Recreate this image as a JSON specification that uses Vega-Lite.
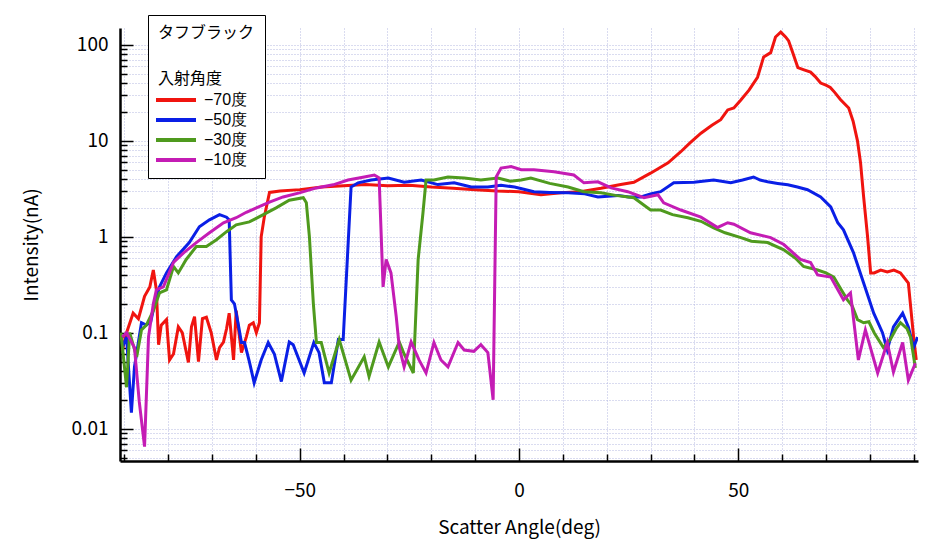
{
  "$schema": "https://vega.github.io/schema/vega-lite/v6.json",
  "width": 798,
  "height": 433,
  "autosize": {"type": "none"},
  "padding": {"left": 120, "top": 28, "right": 9, "bottom": 81},
  "background": "white",
  "config": {
    "font": "Noto Sans CJK JP",
    "view": {"stroke": null},
    "axis": {"domainColor": "black", "domainWidth": 2.5, "tickColor": "black", "tickWidth": 1.5, "labelColor": "black", "titleColor": "black", "labelFontSize": 19, "titleFontSize": 19, "titleFontWeight": "normal", "gridColor": "#b4b8e0", "gridDash": [1, 2], "gridWidth": 1}
  },
  "data": {"values": [
    {"s":"−70度","x":-90.5,"y":0.065},{"s":"−70度","x":-89.5,"y":0.1},{"s":"−70度","x":-88,"y":0.16},{"s":"−70度","x":-86.8,"y":0.14},{"s":"−70度","x":-85.4,"y":0.24},{"s":"−70度","x":-84.2,"y":0.3},{"s":"−70度","x":-83.4,"y":0.45},{"s":"−70度","x":-82.7,"y":0.28},{"s":"−70度","x":-82.2,"y":0.075},{"s":"−70度","x":-81.6,"y":0.12},{"s":"−70度","x":-80.4,"y":0.137},{"s":"−70度","x":-79.7,"y":0.052},{"s":"−70度","x":-78.8,"y":0.06},{"s":"−70度","x":-77.7,"y":0.115},{"s":"−70度","x":-76.8,"y":0.1},{"s":"−70度","x":-75.4,"y":0.049},{"s":"−70度","x":-74.7,"y":0.115},{"s":"−70度","x":-74.0,"y":0.147},{"s":"−70度","x":-73.1,"y":0.05},{"s":"−70度","x":-72.2,"y":0.14},{"s":"−70度","x":-71.3,"y":0.145},{"s":"−70度","x":-70.2,"y":0.1},{"s":"−70度","x":-69.0,"y":0.052},{"s":"−70度","x":-68.3,"y":0.07},{"s":"−70度","x":-67.4,"y":0.08},{"s":"−70度","x":-66.7,"y":0.11},{"s":"−70度","x":-66.1,"y":0.16},{"s":"−70度","x":-65.1,"y":0.052},{"s":"−70度","x":-64.5,"y":0.17},{"s":"−70度","x":-63.3,"y":0.062},{"s":"−70度","x":-62.2,"y":0.09},{"s":"−70度","x":-61.5,"y":0.12},{"s":"−70度","x":-60.6,"y":0.127},{"s":"−70度","x":-59.9,"y":0.1},{"s":"−70度","x":-59.2,"y":0.127},{"s":"−70度","x":-58.8,"y":1.0},{"s":"−70度","x":-58.1,"y":1.6},{"s":"−70度","x":-56.9,"y":2.9},{"s":"−70度","x":-54.5,"y":3.0},{"s":"−70度","x":-50,"y":3.1},{"s":"−70度","x":-45,"y":3.3},{"s":"−70度","x":-40,"y":3.4},{"s":"−70度","x":-35,"y":3.5},{"s":"−70度","x":-30,"y":3.4},{"s":"−70度","x":-25,"y":3.45},{"s":"−70度","x":-20,"y":3.3},{"s":"−70度","x":-15,"y":3.2},{"s":"−70度","x":-10,"y":3.1},{"s":"−70度","x":-5,"y":3.0},{"s":"−70度","x":0,"y":2.95},{"s":"−70度","x":5,"y":2.75},{"s":"−70度","x":9.6,"y":2.87},{"s":"−70度","x":14,"y":2.95},{"s":"−70度","x":18.7,"y":3.2},{"s":"−70度","x":23.2,"y":3.5},{"s":"−70度","x":26.2,"y":3.7},{"s":"−70度","x":30,"y":4.6},{"s":"−70度","x":34,"y":5.9},{"s":"−70度","x":36.9,"y":7.7},{"s":"−70度","x":39,"y":9.5},{"s":"−70度","x":41.5,"y":12},{"s":"−70度","x":44,"y":14.5},{"s":"−70度","x":46,"y":16.6},{"s":"−70度","x":47.6,"y":21},{"s":"−70度","x":49,"y":22},{"s":"−70度","x":50.6,"y":26.7},{"s":"−70度","x":52.5,"y":34},{"s":"−70度","x":54.4,"y":46},{"s":"−70度","x":55.8,"y":75},{"s":"−70度","x":57.4,"y":83},{"s":"−70度","x":58.5,"y":121},{"s":"−70度","x":59.7,"y":136},{"s":"−70度","x":60.8,"y":121},{"s":"−70度","x":61.5,"y":110},{"s":"−70度","x":62.4,"y":84},{"s":"−70度","x":63.6,"y":58},{"s":"−70度","x":65,"y":55},{"s":"−70度","x":66.5,"y":52},{"s":"−70度","x":67.5,"y":47},{"s":"−70度","x":68.8,"y":40},{"s":"−70度","x":70,"y":38},{"s":"−70度","x":71,"y":36},{"s":"−70度","x":72,"y":32},{"s":"−70度","x":73.3,"y":27},{"s":"−70度","x":75.2,"y":22},{"s":"−70度","x":76.2,"y":16},{"s":"−70度","x":77.2,"y":10},{"s":"−70度","x":77.9,"y":5.9},{"s":"−70度","x":78.6,"y":2.6},{"s":"−70度","x":79.5,"y":1.0},{"s":"−70度","x":80.2,"y":0.42},{"s":"−70度","x":81,"y":0.42},{"s":"−70度","x":82.5,"y":0.45},{"s":"−70度","x":84,"y":0.43},{"s":"−70度","x":85.5,"y":0.45},{"s":"−70度","x":87,"y":0.42},{"s":"−70度","x":88.8,"y":0.33},{"s":"−70度","x":90,"y":0.09},{"s":"−70度","x":90.6,"y":0.052},

    {"s":"−50度","x":-90.5,"y":0.07},{"s":"−50度","x":-89.5,"y":0.09},{"s":"−50度","x":-88.4,"y":0.0147},{"s":"−50度","x":-87.7,"y":0.044},{"s":"−50度","x":-86.1,"y":0.127},{"s":"−50度","x":-85,"y":0.12},{"s":"−50度","x":-84,"y":0.13},{"s":"−50度","x":-83.1,"y":0.2},{"s":"−50度","x":-82,"y":0.3},{"s":"−50度","x":-80.4,"y":0.42},{"s":"−50度","x":-78.1,"y":0.62},{"s":"−50度","x":-75.2,"y":0.87},{"s":"−50度","x":-72.9,"y":1.27},{"s":"−50度","x":-70.6,"y":1.5},{"s":"−50度","x":-68.3,"y":1.7},{"s":"−50度","x":-66.7,"y":1.6},{"s":"−50度","x":-66.1,"y":1.5},{"s":"−50度","x":-65.6,"y":0.22},{"s":"−50度","x":-64.9,"y":0.2},{"s":"−50度","x":-64,"y":0.12},{"s":"−50度","x":-63.3,"y":0.079},{"s":"−50度","x":-62.6,"y":0.079},{"s":"−50度","x":-61.5,"y":0.05},{"s":"−50度","x":-60.4,"y":0.03},{"s":"−50度","x":-58.8,"y":0.052},{"s":"−50度","x":-57.2,"y":0.079},{"s":"−50度","x":-55.8,"y":0.06},{"s":"−50度","x":-54.2,"y":0.031},{"s":"−50度","x":-52.4,"y":0.08},{"s":"−50度","x":-51.5,"y":0.075},{"s":"−50度","x":-49,"y":0.038},{"s":"−50度","x":-46.8,"y":0.079},{"s":"−50度","x":-45.6,"y":0.062},{"s":"−50度","x":-44.4,"y":0.03},{"s":"−50度","x":-42.8,"y":0.03},{"s":"−50度","x":-41.2,"y":0.085},{"s":"−50度","x":-40.1,"y":0.085},{"s":"−50度","x":-38.3,"y":3.3},{"s":"−50度","x":-36.7,"y":3.65},{"s":"−50度","x":-33.7,"y":3.9},{"s":"−50度","x":-29.8,"y":4.1},{"s":"−50度","x":-26.2,"y":3.7},{"s":"−50度","x":-22.3,"y":3.9},{"s":"−50度","x":-18.5,"y":3.5},{"s":"−50度","x":-14.8,"y":3.65},{"s":"−50度","x":-10.9,"y":3.3},{"s":"−50度","x":-7.1,"y":3.3},{"s":"−50度","x":-4.1,"y":3.45},{"s":"−50度","x":-1,"y":3.3},{"s":"−50度","x":3.4,"y":2.95},{"s":"−50度","x":7,"y":2.9},{"s":"−50度","x":11.2,"y":2.87},{"s":"−50度","x":15,"y":2.8},{"s":"−50度","x":18,"y":2.6},{"s":"−50度","x":22.6,"y":2.7},{"s":"−50度","x":25,"y":2.6},{"s":"−50度","x":27.8,"y":2.6},{"s":"−50度","x":30,"y":2.8},{"s":"−50度","x":32.3,"y":2.95},{"s":"−50度","x":35.3,"y":3.65},{"s":"−50度","x":39.9,"y":3.7},{"s":"−50度","x":44.4,"y":3.9},{"s":"−50度","x":48.3,"y":3.65},{"s":"−50度","x":51,"y":3.9},{"s":"−50度","x":53.5,"y":4.2},{"s":"−50度","x":55,"y":3.9},{"s":"−50度","x":56.7,"y":3.74},{"s":"−50度","x":59,"y":3.6},{"s":"−50度","x":61.3,"y":3.48},{"s":"−50度","x":63.5,"y":3.3},{"s":"−50度","x":65.8,"y":3.09},{"s":"−50度","x":68.8,"y":2.6},{"s":"−50度","x":71.1,"y":2.05},{"s":"−50度","x":72.7,"y":1.4},{"s":"−50度","x":74,"y":1.18},{"s":"−50度","x":76.3,"y":0.68},{"s":"−50度","x":78.6,"y":0.33},{"s":"−50度","x":80.9,"y":0.16},{"s":"−50度","x":82.9,"y":0.1},{"s":"−50度","x":84,"y":0.066},{"s":"−50度","x":85.4,"y":0.115},{"s":"−50度","x":87.5,"y":0.16},{"s":"−50度","x":88.8,"y":0.115},{"s":"−50度","x":90,"y":0.07},{"s":"−50度","x":90.9,"y":0.09},

    {"s":"−30度","x":-90.8,"y":0.1},{"s":"−30度","x":-89.5,"y":0.027},{"s":"−30度","x":-88.8,"y":0.1},{"s":"−30度","x":-87.2,"y":0.056},{"s":"−30度","x":-86.1,"y":0.107},{"s":"−30度","x":-85,"y":0.12},{"s":"−30度","x":-83.4,"y":0.17},{"s":"−30度","x":-82,"y":0.26},{"s":"−30度","x":-80.4,"y":0.28},{"s":"−30度","x":-78.8,"y":0.49},{"s":"−30度","x":-77.7,"y":0.42},{"s":"−30度","x":-75.9,"y":0.58},{"s":"−30度","x":-73.6,"y":0.79},{"s":"−30度","x":-71.3,"y":0.79},{"s":"−30度","x":-69,"y":0.93},{"s":"−30度","x":-66.7,"y":1.13},{"s":"−30度","x":-64.5,"y":1.33},{"s":"−30度","x":-61.5,"y":1.43},{"s":"−30度","x":-58.3,"y":1.7},{"s":"−30度","x":-55.4,"y":2},{"s":"−30度","x":-52.4,"y":2.4},{"s":"−30度","x":-49.2,"y":2.55},{"s":"−30度","x":-48.5,"y":2.26},{"s":"−30度","x":-47.8,"y":1.0},{"s":"−30度","x":-46.9,"y":0.2},{"s":"−30度","x":-46.2,"y":0.079},{"s":"−30度","x":-45.1,"y":0.079},{"s":"−30度","x":-43.3,"y":0.038},{"s":"−30度","x":-41,"y":0.085},{"s":"−30度","x":-38.3,"y":0.032},{"s":"−30度","x":-35.3,"y":0.056},{"s":"−30度","x":-34.2,"y":0.035},{"s":"−30度","x":-31.9,"y":0.08},{"s":"−30度","x":-29.8,"y":0.044},{"s":"−30度","x":-27.3,"y":0.08},{"s":"−30度","x":-26.2,"y":0.06},{"s":"−30度","x":-24.1,"y":0.038},{"s":"−30度","x":-23.8,"y":0.08},{"s":"−30度","x":-23,"y":0.58},{"s":"−30度","x":-21.9,"y":1.78},{"s":"−30度","x":-21.2,"y":3.9},{"s":"−30度","x":-19.4,"y":3.9},{"s":"−30度","x":-16.2,"y":4.2},{"s":"−30度","x":-12.5,"y":4.1},{"s":"−30度","x":-8.7,"y":3.9},{"s":"−30度","x":-4.8,"y":4.1},{"s":"−30度","x":-2,"y":3.8},{"s":"−30度","x":0.5,"y":3.9},{"s":"−30度","x":2.7,"y":4.1},{"s":"−30度","x":7,"y":3.6},{"s":"−30度","x":11.2,"y":3.3},{"s":"−30度","x":14.8,"y":2.95},{"s":"−30度","x":18.7,"y":2.87},{"s":"−30度","x":22,"y":2.7},{"s":"−30度","x":26.2,"y":2.55},{"s":"−30度","x":30,"y":1.9},{"s":"−30度","x":32.3,"y":1.9},{"s":"−30度","x":35,"y":1.7},{"s":"−30度","x":38.5,"y":1.58},{"s":"−30度","x":41.5,"y":1.45},{"s":"−30度","x":44.4,"y":1.24},{"s":"−30度","x":47,"y":1.1},{"s":"−30度","x":50.6,"y":0.98},{"s":"−30度","x":53,"y":0.9},{"s":"−30度","x":56.7,"y":0.87},{"s":"−30度","x":60.4,"y":0.73},{"s":"−30度","x":63,"y":0.6},{"s":"−30度","x":64.9,"y":0.49},{"s":"−30度","x":68.1,"y":0.45},{"s":"−30度","x":70,"y":0.42},{"s":"−30度","x":71.8,"y":0.38},{"s":"−30度","x":73.5,"y":0.28},{"s":"−30度","x":74.9,"y":0.22},{"s":"−30度","x":76,"y":0.19},{"s":"−30度","x":77.2,"y":0.137},{"s":"−30度","x":78.6,"y":0.127},{"s":"−30度","x":79.8,"y":0.13},{"s":"−30度","x":81,"y":0.1},{"s":"−30度","x":83.1,"y":0.07},{"s":"−30度","x":84.7,"y":0.085},{"s":"−30度","x":86,"y":0.11},{"s":"−30度","x":87,"y":0.127},{"s":"−30度","x":88.5,"y":0.11},{"s":"−30度","x":89.3,"y":0.09},{"s":"−30度","x":90.4,"y":0.043},

    {"s":"−10度","x":-90.5,"y":0.09},{"s":"−10度","x":-89.5,"y":0.1},{"s":"−10度","x":-87.7,"y":0.07},{"s":"−10度","x":-86.6,"y":0.019},{"s":"−10度","x":-85.4,"y":0.0065},{"s":"−10度","x":-84.5,"y":0.09},{"s":"−10度","x":-83.4,"y":0.2},{"s":"−10度","x":-82.7,"y":0.28},{"s":"−10度","x":-81.1,"y":0.3},{"s":"−10度","x":-78.8,"y":0.54},{"s":"−10度","x":-76.5,"y":0.68},{"s":"−10度","x":-73.6,"y":0.87},{"s":"−10度","x":-70.6,"y":1.1},{"s":"−10度","x":-67.4,"y":1.4},{"s":"−10度","x":-64.5,"y":1.58},{"s":"−10度","x":-62.2,"y":1.8},{"s":"−10度","x":-59.9,"y":2},{"s":"−10度","x":-56.9,"y":2.3},{"s":"−10度","x":-53.8,"y":2.6},{"s":"−10度","x":-50.1,"y":2.87},{"s":"−10度","x":-46.2,"y":3.23},{"s":"−10度","x":-42.4,"y":3.48},{"s":"−10度","x":-39,"y":3.9},{"s":"−10度","x":-35.3,"y":4.2},{"s":"−10度","x":-33,"y":4.4},{"s":"−10度","x":-31.9,"y":4.1},{"s":"−10度","x":-31,"y":0.3},{"s":"−10度","x":-30.3,"y":0.58},{"s":"−10度","x":-29.2,"y":0.42},{"s":"−10度","x":-28,"y":0.147},{"s":"−10度","x":-27.3,"y":0.07},{"s":"−10度","x":-26.2,"y":0.044},{"s":"−10度","x":-24.6,"y":0.08},{"s":"−10度","x":-22.8,"y":0.052},{"s":"−10度","x":-21.2,"y":0.038},{"s":"−10度","x":-19.4,"y":0.079},{"s":"−10度","x":-17.8,"y":0.052},{"s":"−10度","x":-16.2,"y":0.044},{"s":"−10度","x":-13.9,"y":0.079},{"s":"−10度","x":-12.5,"y":0.066},{"s":"−10度","x":-10.3,"y":0.064},{"s":"−10度","x":-8.7,"y":0.075},{"s":"−10度","x":-7.1,"y":0.062},{"s":"−10度","x":-5.9,"y":0.02},{"s":"−10度","x":-5.2,"y":4.2},{"s":"−10度","x":-4.1,"y":5.2},{"s":"−10度","x":-1.8,"y":5.4},{"s":"−10度","x":0.5,"y":5},{"s":"−10度","x":3.4,"y":5},{"s":"−10度","x":8,"y":4.75},{"s":"−10度","x":12.5,"y":4.4},{"s":"−10度","x":14.8,"y":3.65},{"s":"−10度","x":18,"y":3.74},{"s":"−10度","x":21,"y":3.23},{"s":"−10度","x":24.8,"y":2.95},{"s":"−10度","x":28.5,"y":2.55},{"s":"−10度","x":31.7,"y":2.74},{"s":"−10度","x":33,"y":2.26},{"s":"−10度","x":36.9,"y":1.9},{"s":"−10度","x":41.5,"y":1.6},{"s":"−10度","x":45.3,"y":1.25},{"s":"−10度","x":47.6,"y":1.4},{"s":"−10度","x":49,"y":1.35},{"s":"−10度","x":52.8,"y":1.1},{"s":"−10度","x":57.4,"y":0.98},{"s":"−10度","x":60.4,"y":0.83},{"s":"−10度","x":64.2,"y":0.58},{"s":"−10度","x":66.5,"y":0.54},{"s":"−10度","x":68.1,"y":0.4},{"s":"−10度","x":71.1,"y":0.38},{"s":"−10度","x":74,"y":0.22},{"s":"−10度","x":75.6,"y":0.26},{"s":"−10度","x":77.4,"y":0.052},{"s":"−10度","x":79,"y":0.107},{"s":"−10度","x":81.8,"y":0.038},{"s":"−10度","x":84,"y":0.079},{"s":"−10度","x":85.4,"y":0.039},{"s":"−10度","x":87.5,"y":0.079},{"s":"−10度","x":88.8,"y":0.032},{"s":"−10度","x":90.4,"y":0.048}
  ]},
  "mark": {"type": "line", "strokeWidth": 3, "clip": true, "interpolate": "linear"},
  "encoding": {
    "x": {"field": "x", "type": "quantitative", "scale": {"domain": [-91, 91], "nice": false, "zero": false},
      "axis": {"title": "Scatter Angle(deg)", "values": [-90,-80,-70,-60,-50,-40,-30,-20,-10,0,10,20,30,40,50,60,70,80,90],
        "labelExpr": "datum.value % 50 == 0 ? format(datum.value, 'd') : ''",
        "tickSize": {"condition": {"test": "datum.value % 50 == 0", "value": -13}, "value": -7},
        "labelPadding": 33, "titlePadding": 18, "grid": true, "labelFlush": false}},
    "y": {"field": "y", "type": "quantitative", "scale": {"type": "log", "domain": [0.0046, 150], "nice": false},
      "axis": {"title": "Intensity(nA)", "values": [0.005,0.006,0.007,0.008,0.009,0.01,0.02,0.03,0.04,0.05,0.06,0.07,0.08,0.09,0.1,0.2,0.3,0.4,0.5,0.6,0.7,0.8,0.9,1,2,3,4,5,6,7,8,9,10,20,30,40,50,60,70,80,90,100],
        "labelExpr": "indexof([0.01,0.1,1,10,100], datum.value) >= 0 ? format(datum.value, '~g') : ''",
        "tickSize": {"condition": {"test": "indexof([0.01,0.1,1,10,100], datum.value) >= 0", "value": -13}, "value": -7},
        "labelPadding": 25, "titlePadding": 30, "grid": true, "labelFlush": false}},
    "color": {"field": "s", "type": "nominal",
      "scale": {"domain": ["−70度", "−50度", "−30度", "−10度"], "range": ["#f0140f", "#0a1fe6", "#4f9a1e", "#c41cb4"]},
      "legend": {"title": ["タフブラック", "入射角度"], "orient": "none", "legendX": 28, "legendY": -13,
        "symbolType": "M-1.5,0H3.5", "symbolSize": 256, "symbolStrokeWidth": 4, "symbolFillColor": "transparent", "labelFont": "Liberation Sans", "labelFontSize": 16, "titleFontSize": 16,
        "titleFontWeight": "normal", "titleLineHeight": 46, "titlePadding": 3, "labelColor": "black", "titleColor": "black",
        "strokeColor": "black", "fillColor": "white", "padding": 10, "rowPadding": 2, "labelOffset": 26}}
  }
}
